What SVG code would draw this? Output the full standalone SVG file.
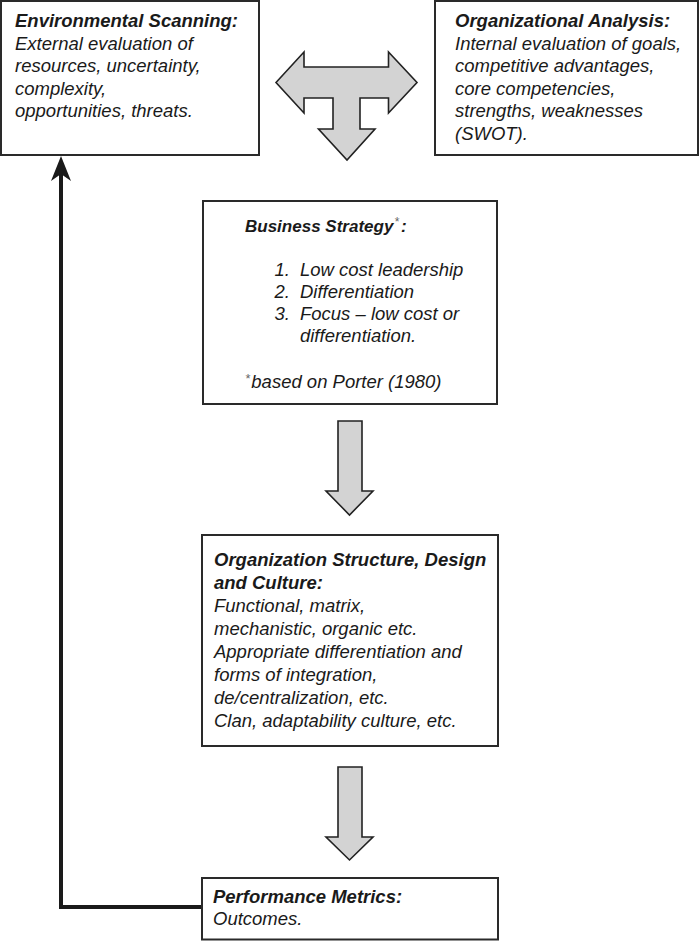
<svg xmlns="http://www.w3.org/2000/svg" width="700" height="941" viewBox="0 0 700 941">
<style>
.box{fill:#fff;stroke:#2a2a2a;stroke-width:2}
.big{fill:#d3d3d3;stroke:#222;stroke-width:1.6;stroke-linejoin:miter}
.t{font-family:"Liberation Sans",Arial,sans-serif;font-style:italic;font-size:17.5px;fill:#1a1a1a}
.b{font-weight:bold}
.sup{font-size:12px;fill:#666;font-weight:normal}
</style>
<rect width="700" height="941" fill="#fff"/>
<g id="connectors">
<polygon id="t-arrow" class="big" points="276,82.5 304,52 304,67 388.5,67 388.5,52 417,82.5 388.5,113 388.5,98 360,98 360,129 375,129 347,160 318.5,129 333,129 333,98 304,98 304,113"/>
<polygon id="arrow1" class="big" points="338,421 362,421 362,491 373,491 349.5,515 326,491 338,491"/>
<polygon id="arrow2" class="big" points="338,767 362,767 362,837 373,837 349.5,860 326,837 338,837"/>
<path id="feedback" d="M201 907 H61 V172" fill="none" stroke="#1a1a1a" stroke-width="4"/>
<polygon points="61,156 51,181 61,174 71,181" fill="#1a1a1a"/>
</g>
<g id="env-scanning">
<rect class="box" x="1" y="1" width="258" height="154"/>
<g transform="translate(15,0) scale(1.057,1)">
<text class="t"><tspan class="b" x="0" y="27">Environmental Scanning:</tspan><tspan x="0" dy="22.6">External evaluation of</tspan><tspan x="0" dy="22.6">resources, uncertainty,</tspan><tspan x="0" dy="22.6">complexity,</tspan><tspan x="0" dy="22.6">opportunities, threats.</tspan></text>
</g>
</g>
<g id="org-analysis">
<rect class="box" x="435" y="1" width="263" height="154"/>
<g transform="translate(455,0) scale(1.057,1)">
<text class="t"><tspan class="b" x="0" y="27">Organizational Analysis:</tspan><tspan x="0" dy="22.6">Internal evaluation of goals,</tspan><tspan x="0" dy="22.6">competitive advantages,</tspan><tspan x="0" dy="22.6">core competencies,</tspan><tspan x="0" dy="22.6">strengths, weaknesses</tspan><tspan x="0" dy="22.6">(SWOT).</tspan></text>
</g>
</g>
<g id="business-strategy">
<rect class="box" x="203" y="201" width="294" height="203"/>
<text class="t b" x="245" y="232" style="font-size:17px">Business Strategy<tspan class="sup" dx="1" dy="-6">*</tspan><tspan dx="2" dy="6">:</tspan></text>
<g transform="translate(245,0) scale(1.057,1)">
<text class="t"><tspan x="28" y="276">1.</tspan><tspan x="52" y="276">Low cost leadership</tspan><tspan x="28" y="298">2.</tspan><tspan x="52" y="298">Differentiation</tspan><tspan x="28" y="320">3.</tspan><tspan x="52" y="320">Focus – low cost or</tspan><tspan x="52" y="342">differentiation.</tspan></text>
<text class="t"><tspan class="sup" x="0" y="383">*</tspan><tspan x="6" y="388">based on Porter (1980)</tspan></text>
</g>
</g>
<g id="org-structure">
<rect class="box" x="202" y="535" width="296" height="211"/>
<g transform="translate(214,0) scale(1.057,1)">
<text class="t"><tspan class="b" x="0" y="566">Organization Structure, Design</tspan><tspan class="b" x="0" dy="23">and Culture:</tspan><tspan x="0" dy="23">Functional, matrix,</tspan><tspan x="0" dy="23">mechanistic, organic etc.</tspan><tspan x="0" dy="23">Appropriate differentiation and</tspan><tspan x="0" dy="23">forms of integration,</tspan><tspan x="0" dy="23">de/centralization, etc.</tspan><tspan x="0" dy="23">Clan, adaptability culture, etc.</tspan></text>
</g>
</g>
<g id="performance">
<rect class="box" x="202" y="878" width="296" height="61.5"/>
<g transform="translate(213,0) scale(1.057,1)">
<text class="t"><tspan class="b" x="0" y="903">Performance Metrics:</tspan><tspan x="0" dy="22">Outcomes.</tspan></text>
</g>
</g>
</svg>
